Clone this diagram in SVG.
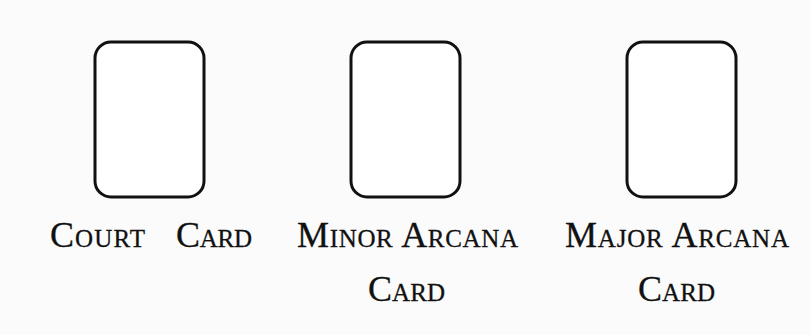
<svg xmlns="http://www.w3.org/2000/svg" width="811" height="335" viewBox="0 0 811 335">
<style>
.card{fill:#fff;stroke:#111;stroke-width:3}
.lbl{font-family:"Liberation Serif",serif;font-size:36px;font-variant:small-caps;fill:#111;stroke:#111;stroke-width:0.3}
</style>
<rect width="811" height="335" fill="#fbfbfb"/>
<g id="court">
<rect class="card" x="95" y="42" width="109" height="155" rx="16"/>
<text class="lbl" x="50" y="247" textLength="95">Court</text>
<text class="lbl" x="176" y="247" textLength="76">Card</text>
</g>
<g id="minor">
<rect class="card" x="351" y="42" width="109" height="155" rx="16"/>
<text class="lbl" x="297" y="247" textLength="221">Minor Arcana</text>
<text class="lbl" x="368" y="301" textLength="77">Card</text>
</g>
<g id="major">
<rect class="card" x="627" y="42" width="109" height="155" rx="16"/>
<text class="lbl" x="565" y="247" textLength="224">Major Arcana</text>
<text class="lbl" x="638" y="301" textLength="77">Card</text>
</g>
<g id="connectors"/>
</svg>
